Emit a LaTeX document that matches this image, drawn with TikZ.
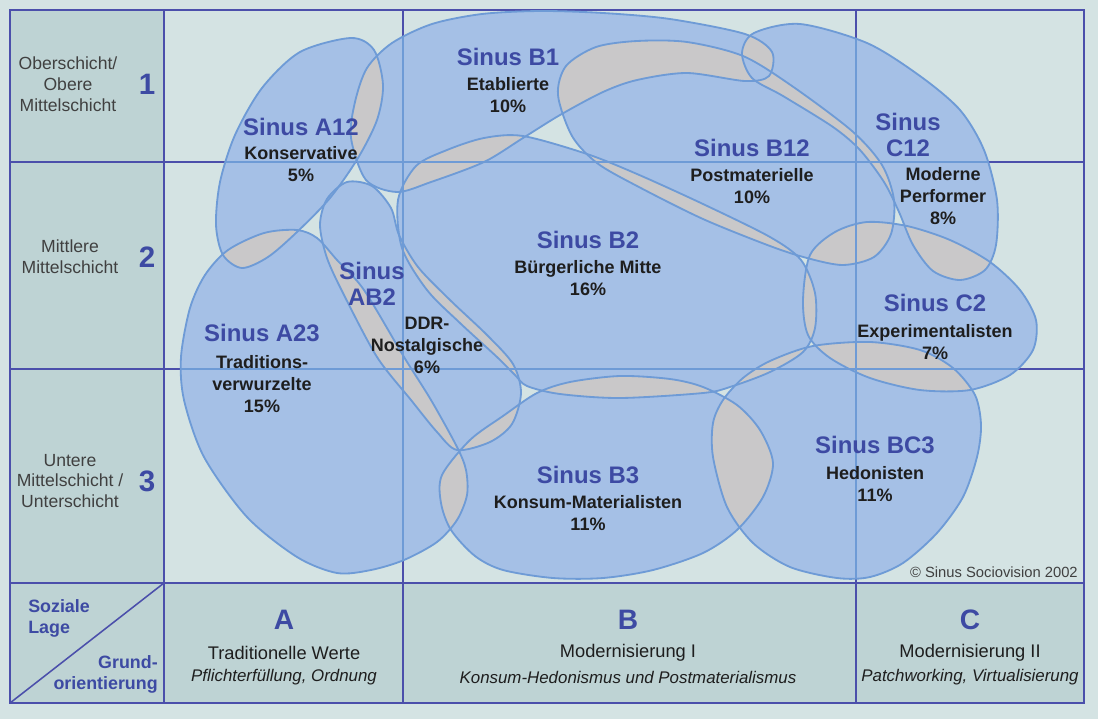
\documentclass[tikz,border=0pt]{standalone}
\usepackage{fontspec}
\setmainfont{Liberation Sans}

\definecolor{paper}{HTML}{D4E3E3}
\definecolor{headfill}{HTML}{BED3D4}
\definecolor{milieu}{HTML}{A5C0E6}
\definecolor{milieuline}{HTML}{6E9BD6}
\definecolor{overlap}{HTML}{C9C8C9}
\definecolor{frame}{HTML}{4B4FAB}
\definecolor{sinusblue}{HTML}{3D4AA3}
\definecolor{ink}{HTML}{1E1E1E}

% milieu outlines (pixel units)
\newcommand{\milAtwelve}{plot[smooth cycle] coordinates {(351,38) (374,50) (383,85) (377,120) (358,158) (330,198) (297,232) (268,257) (242,268) (223,255) (216,225) (220,182) (235,135) (262,88) (300,52)}}
\newcommand{\milBone}{plot[smooth cycle] coordinates {(351,138) (355,102) (367,68) (392,43) (432,24) (482,14) (540,11) (603,13) (670,19) (745,34) (772,52) (769,76) (745,81) (687,73) (637,80) (603,92) (560,115) (523,138) (484,162) (431,182) (397,192) (366,180)}}
\newcommand{\milCtwelve}{plot[smooth cycle] coordinates {(742,53) (754,33) (800,24) (867,43) (920,76) (960,110) (984,150) (997,200) (996,245) (985,270) (960,280) (933,271) (913,245) (899,212) (884,182) (860,150) (833,127) (783,96) (752,78)}}
\newcommand{\milBtwelve}{plot[smooth cycle] coordinates {(558,95) (566,66) (596,47) (637,41) (687,42) (743,56) (792,86) (852,131) (882,165) (894,200) (891,234) (874,257) (843,265) (807,258) (770,246) (703,219) (637,186) (597,163) (572,136)}}
\newcommand{\milBtwo}{plot[smooth cycle] coordinates {(398,200) (416,166) (447,150) (484,138) (523,136) (587,154) (637,174) (703,204) (770,237) (801,260) (815,293) (815,328) (803,352) (770,372) (730,387) (703,393) (620,398) (560,394) (527,386) (515,375) (497,357) (460,323) (427,290) (402,248)}}
\newcommand{\milABtwo}{plot[smooth cycle] coordinates {(347,182) (372,186) (391,208) (399,235) (418,267) (450,300) (487,335) (513,364) (521,393) (512,424) (490,442) (457,450) (437,432) (411,400) (377,357) (344,295) (327,258) (320,225) (327,199)}}
\newcommand{\milAtwothree}{plot[smooth cycle] coordinates {(205,275) (228,250) (264,233) (297,230) (317,238) (337,260) (364,290) (404,357) (431,400) (457,447) (466,470) (467,495) (457,520) (437,542) (404,560) (371,570) (337,573) (297,557) (247,517) (204,457) (184,400) (181,357) (190,308)}}
\newcommand{\milBthree}{plot[smooth cycle] coordinates {(470,440) (503,416) (537,393) (570,382) (620,376) (670,379) (703,387) (737,405) (760,430) (773,463) (763,497) (737,530) (703,553) (653,570) (603,578) (553,578) (503,570) (475,556) (451,530) (441,503) (442,475)}}
\newcommand{\milCtwo}{plot[smooth cycle] coordinates {(803,300) (810,255) (835,232) (867,222) (907,226) (950,240) (990,262) (1020,290) (1036,320) (1033,350) (1010,375) (970,390) (920,390) (870,378) (830,358) (808,335)}}
\newcommand{\milBCthree}{plot[smooth cycle] coordinates {(713,423) (723,400) (743,378) (770,361) (813,346) (870,342) (920,350) (953,368) (975,395) (981,425) (977,457) (963,497) (937,533) (903,563) (870,577) (837,578) (790,567) (753,543) (727,507) (713,457)}}

\begin{document}
\begin{tikzpicture}[x=0.025cm, y=-0.025cm,
    gridline/.style={draw=frame, line width=1.1pt},
    innerline/.style={draw=milieuline, line width=0.9pt},
    outline/.style={draw=milieuline, line width=1.3pt},
    sinus/.style={font=\bfseries\fontsize{17}{18.5}\selectfont, text=sinusblue, align=center, inner sep=0pt},
    sinustext/.style={font=\bfseries\fontsize{12.8}{15.6}\selectfont, text=ink, align=center, inner sep=0pt},
    layer/.style={font=\fontsize{12.5}{14.9}\selectfont, text=ink!85, align=center, inner sep=0pt},
    rank/.style={font=\bfseries\fontsize{21}{21}\selectfont, text=sinusblue, inner sep=0pt},
    corner/.style={font=\bfseries\fontsize{12.7}{15}\selectfont, text=sinusblue, inner sep=0pt},
    colletter/.style={font=\bfseries\fontsize{20}{20}\selectfont, text=sinusblue, inner sep=0pt},
    coltitle/.style={font=\fontsize{13}{15}\selectfont, text=ink, inner sep=0pt},
    colsub/.style={font=\itshape\fontsize{12}{14}\selectfont, text=ink, inner sep=0pt}]
    \useasboundingbox (0,0) rectangle (1098,719);

    % Paper and header cells
    \fill[paper] (0,0) rectangle (1098,719);
    \fill[headfill] (10,10) rectangle (164,703);
    \fill[headfill] (164,583) rectangle (1084,703);

    % Grid
    \coordinate (tl) at (10,10);
    \coordinate (br) at (1084,703);
    \coordinate (bl) at (10,703);
    \coordinate (cr) at (164,583);
    \foreach \x [count=\i] in {164,403,856} {
        \coordinate (vt\i) at (\x,10);
        \coordinate (vb\i) at (\x,703);
    }
    \foreach \y [count=\i] in {162,369,583} {
        \coordinate (hl\i) at (10,\y);
        \coordinate (hr\i) at (1084,\y);
    }
    \draw[gridline] (tl) rectangle (br);
    \foreach \i in {1,2,3} {
        \draw[gridline] (vt\i) -- (vb\i);
        \draw[gridline] (hl\i) -- (hr\i);
    }
    \draw[gridline] (bl) -- (cr);

    % Milieus: grey where two overlap
    \foreach \m in {\milAtwelve,\milBone,\milCtwelve,\milBtwelve,\milBtwo,\milABtwo,\milAtwothree,\milBthree,\milCtwo,\milBCthree}
        \fill[overlap] \m;
    \fill[milieu, even odd rule] \milAtwelve \milBone \milCtwelve \milBtwelve \milBtwo
        \milABtwo \milAtwothree \milBthree \milCtwo \milBCthree;
    \foreach \m in {\milAtwelve,\milBone,\milCtwelve,\milBtwelve,\milBtwo,\milABtwo,\milAtwothree,\milBthree,\milCtwo,\milBCthree} {
        \begin{scope}
            \clip \m;
            \foreach \i in {1,2,3} {
                \draw[innerline] (vt\i) -- (vb\i);
                \draw[innerline] (hl\i) -- (hr\i);
            }
        \end{scope}
    }
    \foreach \m in {\milAtwelve,\milBone,\milCtwelve,\milBtwelve,\milBtwo,\milABtwo,\milAtwothree,\milBthree,\milCtwo,\milBCthree}
        \draw[outline] \m;

    % Milieu labels
    \node[sinus] (a12) at (301,127) {Sinus A12};
    \node[sinustext] (a12t) at (301,164) {Konservative\\5\%};
    \node[sinus] (b1) at (508,57) {Sinus B1};
    \node[sinustext] (b1t) at (508,95) {Etablierte\\10\%};
    \node[sinus] (b12) at (752,148) {Sinus B12};
    \node[sinustext] (b12t) at (752,186) {Postmaterielle\\10\%};
    \node[sinus] (c12) at (908,135) {Sinus\\C12};
    \node[sinustext] (c12t) at (943,196) {Moderne\\Performer\\8\%};
    \node[sinus] (b2) at (588,240) {Sinus B2};
    \node[sinustext] (b2t) at (588,278) {Bürgerliche Mitte\\16\%};
    \node[sinus] (ab2) at (372,284) {Sinus\\AB2};
    \node[sinustext] (ab2t) at (427,345) {DDR-\\Nostalgische\\6\%};
    \node[sinus] (a23) at (262,333) {Sinus A23};
    \node[sinustext] (a23t) at (262,384) {Traditions-\\verwurzelte\\15\%};
    \node[sinus] (c2) at (935,303) {Sinus C2};
    \node[sinustext] (c2t) at (935,342) {Experimentalisten\\7\%};
    \node[sinus] (b3) at (588,475) {Sinus B3};
    \node[sinustext] (b3t) at (588,513) {Konsum-Materialisten\\11\%};
    \node[sinus] (bc3) at (875,445) {Sinus BC3};
    \node[sinustext] (bc3t) at (875,484) {Hedonisten\\11\%};
    \node[font=\fontsize{10.5}{12}\selectfont, text=ink!85, anchor=east, inner sep=0pt] (copy) at (1078,572) {© Sinus Sociovision 2002};

    % Social strata
    \node[layer] (row1) at (68,84) {Oberschicht/\\Obere\\Mittelschicht};
    \node[rank] (num1) at (147,84) {1};
    \node[layer] (row2) at (70,257) {Mittlere\\Mittelschicht};
    \node[rank] (num2) at (147,257) {2};
    \node[layer] (row3) at (70,481) {Untere\\Mittelschicht /\\Unterschicht};
    \node[rank] (num3) at (147,481) {3};

    % Corner cell
    \node[corner, anchor=west, align=left] (lage) at (28,618) {Soziale\\Lage};
    \node[corner, anchor=east, align=right] (grund) at (158,674) {Grund-\\orientierung};

    % Basic orientations
    \node[colletter] (colA) at (284,620) {A};
    \node[coltitle] (colAt) at (284,653) {Traditionelle Werte};
    \node[colsub] (colAs) at (284,677) {Pflichterfüllung, Ordnung};
    \node[colletter] (colB) at (628,620) {B};
    \node[coltitle] (colBt) at (628,653) {Modernisierung I};
    \node[colsub] (colBs) at (628,677) {Konsum-Hedonismus und Postmaterialismus};
    \node[colletter] (colC) at (970,620) {C};
    \node[coltitle] (colCt) at (970,653) {Modernisierung II};
    \node[colsub] (colCs) at (970,677) {Patchworking, Virtualisierung};
\end{tikzpicture}
\end{document}
